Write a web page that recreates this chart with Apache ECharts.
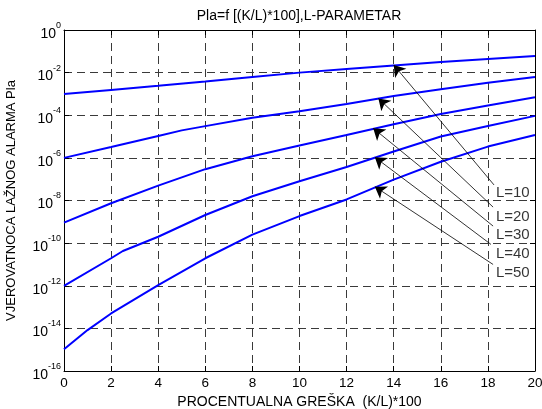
<!DOCTYPE html>
<html>
<head>
<meta charset="utf-8">
<script src="https://cdn.jsdelivr.net/npm/echarts@6/dist/echarts.min.js"></script>
<style>html,body{margin:0;padding:0;background:#fff;}#c{width:542px;height:409px;}</style>
</head>
<body>
<div id="c"></div>
<script>
// Values are log10 exponents of Pla
var L10_x = [0, 2, 4, 6, 8, 10, 12, 14, 16, 18, 20];
var L10_y = [-3.0, -2.81, -2.62, -2.42, -2.2, -2.0, -1.83, -1.66, -1.5, -1.36, -1.22];
var L20_x = [0, 2, 4, 5, 6, 8, 10, 12, 14, 16, 18, 20];
var L20_y = [-6.0, -5.49, -4.97, -4.71, -4.51, -4.12, -3.81, -3.47, -3.1, -2.78, -2.47, -2.2];
var L30_x = [0, 2, 4, 6, 8, 10, 12, 14, 16, 18, 20];
var L30_y = [-9.04, -8.13, -7.3, -6.53, -5.92, -5.42, -4.93, -4.42, -3.94, -3.54, -3.16];
var L40_x = [0, 2, 2.5, 4, 6, 8, 10, 12, 14, 16, 18, 20];
var L40_y = [-12.01, -10.71, -10.37, -9.7, -8.68, -7.8, -7.1, -6.43, -5.7, -5.0, -4.5, -4.03];
var L50_x = [0, 1, 2, 4, 6, 8, 10, 12, 14, 16, 18, 20];
var L50_y = [-14.98, -14.08, -13.3, -11.97, -10.71, -9.6, -8.73, -7.95, -7.02, -6.18, -5.47, -4.93];

var labelNames = ['L=10', 'L=20', 'L=30', 'L=40', 'L=50'];
var labelX = [18.34, 18.34, 18.34, 18.34, 18.34];
var labelY = [-7.66, -8.76, -9.6, -10.51, -11.4];
var arrowTail = [[18.26, -7.27], [18.22, -8.31], [18.22, -9.2], [18.13, -10.06], [18.22, -11.0]];
var arrowTip = [[14.0, -1.64], [13.35, -3.21], [13.13, -4.61], [13.2, -5.97], [13.2, -7.35]];

var xTicks = { min: 0, max: 20, interval: 2 };
var yTicks = { min: -16, max: 0, interval: 2 };
var titleText = 'Pla=f [(K/L)*100],L-PARAMETAR';
var xName = 'PROCENTUALNA GREŠKA  (K/L)*100';
var yName = 'VJEROVATNOCA LAŽNOG ALARMA Pla';

var FONT = '"Liberation Sans", Arial, sans-serif';

function pairs(xs, ys) { return xs.map(function (x, i) { return [x, ys[i]]; }); }
function curve(name, xs, ys) {
  return {
    name: name, type: 'line', data: pairs(xs, ys), showSymbol: false, symbol: 'none',
    lineStyle: { color: '#0000ff', width: 2 }, z: 5, animation: false
  };
}

var chart = echarts.init(document.getElementById('c'), null, { renderer: 'canvas' });
var gridLine = { show: true, lineStyle: { color: '#3a3a3a', width: 1, type: [8, 5] } };
var option = {
  backgroundColor: '#fff',
  animation: false,
  title: {
    text: titleText, left: 299, textAlign: 'center', top: 9, padding: 0,
    textStyle: { fontFamily: FONT, fontSize: 14, fontWeight: 'normal', color: '#000' }
  },
  grid: { left: 64, right: 7, top: 30, bottom: 38, containLabel: false, outerBoundsMode: 'none' },
  xAxis: [{
    type: 'value', min: xTicks.min, max: xTicks.max, interval: xTicks.interval, position: 'bottom',
    name: xName, nameLocation: 'middle', nameGap: 20,
    nameTextStyle: { fontFamily: FONT, fontSize: 14, color: '#000' },
    axisLine: { show: true, onZero: false, lineStyle: { color: '#000', width: 1 } },
    axisTick: { show: true, inside: true, length: 5, lineStyle: { color: '#000' } },
    axisLabel: { fontFamily: FONT, fontSize: 13.5, color: '#000', margin: 5, hideOverlap: false },
    splitLine: gridLine
  }, {
    type: 'value', min: xTicks.min, max: xTicks.max, interval: xTicks.interval, position: 'top',
    axisLine: { show: true, onZero: false, lineStyle: { color: '#000', width: 1 } },
    axisTick: { show: true, inside: true, length: 5, lineStyle: { color: '#000' } },
    axisLabel: { show: false }, splitLine: { show: false }
  }],
  yAxis: [{
    type: 'value', min: yTicks.min, max: yTicks.max, interval: yTicks.interval, position: 'left',
    name: yName, nameLocation: 'middle', nameGap: 46, nameRotate: 90,
    nameTextStyle: { fontFamily: FONT, fontSize: 13, color: '#000' },
    axisLine: { show: true, onZero: false, lineStyle: { color: '#000', width: 1 } },
    axisTick: { show: true, inside: true, length: 5, lineStyle: { color: '#000' } },
    axisLabel: {
      margin: 3,
      formatter: function (v) { return '{b|10}{s|' + v + '}'; },
      rich: {
        b: { fontFamily: FONT, fontSize: 14, color: '#000', lineHeight: 14, padding: [8, 0, 0, 0] },
        s: { fontFamily: FONT, fontSize: 9, color: '#000', lineHeight: 9, padding: [2, 0, 11, 0] }
      }
    },
    splitLine: gridLine
  }, {
    type: 'value', min: yTicks.min, max: yTicks.max, interval: yTicks.interval, position: 'right',
    axisLine: { show: true, onZero: false, lineStyle: { color: '#000', width: 1 } },
    axisTick: { show: true, inside: true, length: 5, lineStyle: { color: '#000' } },
    axisLabel: { show: false }, splitLine: { show: false }
  }],
  series: [
    curve('L=10', L10_x, L10_y),
    curve('L=20', L20_x, L20_y),
    curve('L=30', L30_x, L30_y),
    curve('L=40', L40_x, L40_y),
    curve('L=50', L50_x, L50_y),
    {
      type: 'lines', coordinateSystem: 'cartesian2d', z: 6,
      symbol: ['none', 'arrow'], symbolSize: [7, 11],
      lineStyle: { color: '#000', width: 0.8, opacity: 1 },
      data: arrowTail.map(function (t, i) { return { coords: [t, arrowTip[i]] }; })
    },
    {
      type: 'scatter', z: 7, symbolSize: 0,
      data: labelNames.map(function (n, i) { return { value: [labelX[i], labelY[i]], name: n }; }),
      label: {
        show: true, position: 'right', distance: 0,
        formatter: function (p) { return p.name; },
        fontFamily: FONT, fontSize: 15, color: '#000'
      }
    }
  ]
};
chart.setOption(option);
</script>
</body>
</html>
